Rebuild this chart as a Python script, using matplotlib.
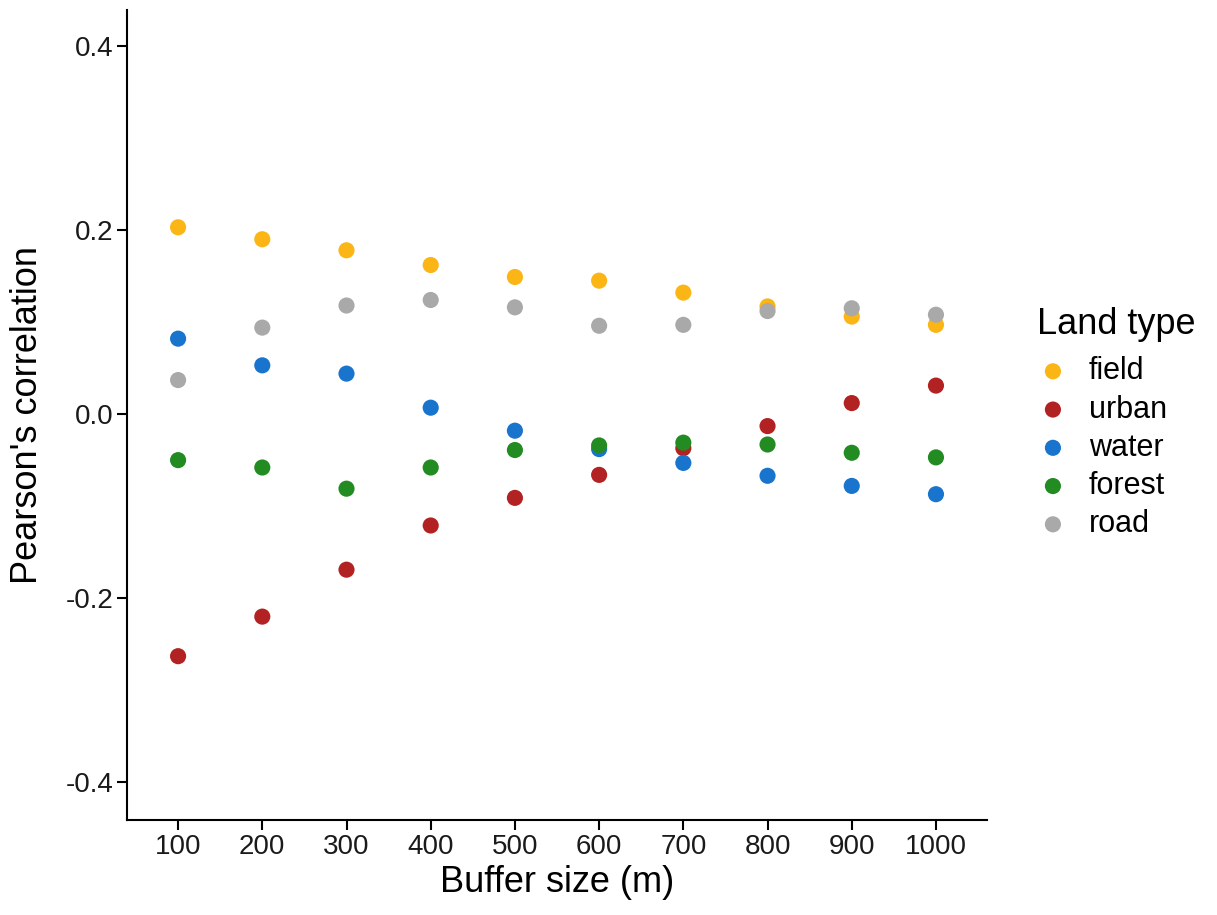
import matplotlib.pyplot as plt

plt.rcParams['font.family'] = ['Liberation Sans', 'DejaVu Sans']

buffer_sizes = [100, 200, 300, 400, 500, 600, 700, 800, 900, 1000]

# Pearson's correlation per land type
field = [0.203, 0.190, 0.178, 0.162, 0.149, 0.145, 0.132, 0.117, 0.106, 0.097]
urban = [-0.263, -0.220, -0.169, -0.121, -0.091, -0.066, -0.037, -0.013, 0.012, 0.031]
water = [0.082, 0.053, 0.044, 0.007, -0.018, -0.038, -0.053, -0.067, -0.078, -0.087]
forest = [-0.050, -0.058, -0.081, -0.058, -0.039, -0.034, -0.031, -0.033, -0.042, -0.047]
road = [0.037, 0.094, 0.118, 0.124, 0.116, 0.096, 0.097, 0.112, 0.115, 0.108]

land_types = ["field", "urban", "water", "forest", "road"]
series = [field, urban, water, forest, road]
colors = ["#FBB514", "#B22222", "#1874CD", "#228B22", "#A9A9A9"]

fig = plt.figure(figsize=(12.17, 9.15), dpi=100)
ax = fig.add_axes([0.1044, 0.1038, 0.7066, 0.8852])

for name, vals, c in zip(land_types, series, colors):
    ax.scatter(buffer_sizes, vals, s=135, color=c, edgecolors="none", label=name, zorder=3)

ax.set_xlim(39.4, 1060.6)
ax.set_ylim(-0.441, 0.439)
ax.set_xticks(buffer_sizes)
ax.set_yticks([-0.4, -0.2, 0.0, 0.2, 0.4])
ax.set_yticklabels(["-0.4", "-0.2", "0.0", "0.2", "0.4"])

for side in ["top", "right"]:
    ax.spines[side].set_visible(False)
for side in ["left", "bottom"]:
    ax.spines[side].set_linewidth(1.5)
ax.tick_params(axis="both", labelsize=20, width=1.5, length=7, color="black",
               labelcolor="#1a1a1a", pad=3)

ax.set_xlabel("Buffer size (m)", fontsize=26, labelpad=4)
ax.set_ylabel("Pearson's correlation", fontsize=26)
ax.yaxis.set_label_coords(-0.095, 0.5)

leg = fig.legend(title="Land type", loc="upper left", bbox_to_anchor=(0.852, 0.664),
                 frameon=False, fontsize=22, title_fontsize=26, handlelength=1.05,
                 handletextpad=0.65, labelspacing=0.27, borderpad=0, borderaxespad=0)
leg._legend_box.align = "left"
leg._legend_box.sep = 10

fig.savefig("out.png", dpi=100)
